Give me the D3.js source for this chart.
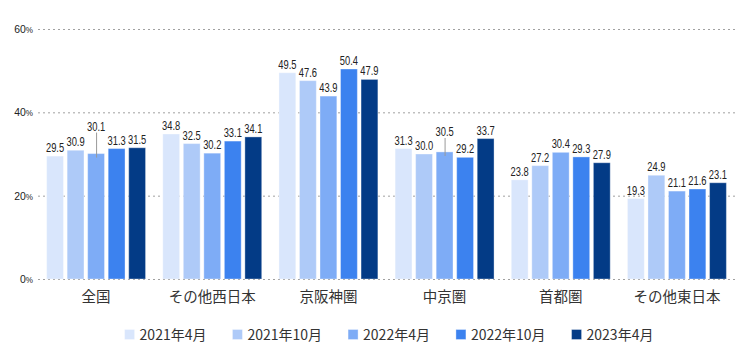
<!DOCTYPE html>
<html><head><meta charset="utf-8">
<script src="https://cdn.jsdelivr.net/npm/d3@7"></script>
<style>
body{margin:0;background:#fff;}
svg{display:block;}
</style></head>
<body>
<svg id="c" width="742" height="352"></svg>
<script>
const categories = ["全国","その他西日本","京阪神圏","中京圏","首都圏","その他東日本"];
const seriesNames = ["2021年4月","2021年10月","2022年4月","2022年10月","2023年4月"];
const s2021_04 = [29.5,34.8,49.5,31.3,23.8,19.3];
const s2021_10 = [30.9,32.5,47.6,30.0,27.2,24.9];
const s2022_04 = [30.1,30.2,43.9,30.5,30.4,21.1];
const s2022_10 = [31.3,33.1,50.4,29.2,29.3,21.6];
const s2023_04 = [31.5,34.1,47.9,33.7,27.9,23.1];
const yTicks = [0,20,40,60];
const colors = ["#d9e6fc","#aecaf8","#7eacf6","#3c82ef","#033b86"];
const callouts = [[0,2],[3,2]]; // labels drawn with leader line

const seriesValues = [s2021_04,s2021_10,s2022_04,s2022_10,s2023_04];
const svg = d3.select("#c");
const L=38,R=735,T=29,B=279;
const y = d3.scaleLinear().domain([0,60]).range([B,T]);
const x0 = d3.scaleBand().domain(categories).range([L,R]).padding(0);
const x1 = d3.scaleBand().domain(seriesNames).range([0,x0.bandwidth()]).paddingInner(0.18).paddingOuter(0.42);
const NUMFONT = "'Liberation Sans', Arial, Helvetica, sans-serif";

// grid
const g = svg.append("g");
yTicks.forEach(t=>{
  g.append("line").attr("x1",L).attr("x2",R).attr("y1",y(t)+0.5).attr("y2",y(t)+0.5)
   .attr("stroke","#a0a0a0").attr("stroke-width",1).attr("stroke-dasharray","2,3");
  const tx = g.append("text").attr("transform",`translate(33,${y(t)+4}) scale(0.95,1)`).attr("text-anchor","end")
   .style("font-family",NUMFONT).attr("fill","#222").style("font-size","11px");
  tx.append("tspan").text(t);
  tx.append("tspan").style("font-size","8.5px").text("%");
});

// bars
const barG = svg.append("g");
categories.forEach((c,ci)=>{
  seriesNames.forEach((s,si)=>{
    const v = seriesValues[si][ci];
    barG.append("rect").attr("x",x0(c)+x1(s)).attr("y",y(v)).attr("width",x1.bandwidth())
      .attr("height",B-y(v)).attr("fill",colors[si])
      .attr("stroke","#ffffff").attr("stroke-opacity",0.35).attr("stroke-width",1);
  });
});

// value labels
const isCallout=(ci,si)=>callouts.some(d=>d[0]===ci&&d[1]===si);
const lblG = svg.append("g");
categories.forEach((c,ci)=>{
  seriesNames.forEach((s,si)=>{
    const v = seriesValues[si][ci];
    const cx = x0(c)+x1(s)+x1.bandwidth()/2;
    let by = y(v)-4;
    if(isCallout(ci,si)){
      const nb = [];
      if(si>0) nb.push(y(seriesValues[si-1][ci])-4);
      if(si<seriesNames.length-1) nb.push(y(seriesValues[si+1][ci])-4);
      by = d3.min(nb)-14;
      lblG.append("line").attr("x1",cx+0.5).attr("x2",cx+0.5).attr("y1",by+2).attr("y2",y(v)+4)
        .attr("stroke","#999").attr("stroke-width",1);
    }
    lblG.append("text").attr("transform",`translate(${cx},${by}) scale(0.78,1)`).attr("text-anchor","middle")
      .style("font-family",NUMFONT).style("font-size","12px")
      .attr("fill","#222").text(v.toFixed(1));
  });
});

// category labels
categories.forEach(c=>{
  svg.append("text").attr("x",x0(c)+x0.bandwidth()/2).attr("y",302).attr("text-anchor","middle")
    .style("font-family","'Noto Sans CJK JP', sans-serif").style("font-size","14.5px").attr("fill","#333").text(c);
});

// legend
const lg = svg.append("g");
const items = seriesNames.map((s,i)=>{
  const it = lg.append("g");
  it.append("rect").attr("x",0).attr("y",-10).attr("width",10).attr("height",10).attr("fill",colors[i])
    .attr("stroke","#fff").attr("stroke-opacity",0.35);
  const t = it.append("text").attr("x",15).attr("y",0).style("font-family","'Noto Sans CJK JP', sans-serif")
    .style("font-size","14px").attr("fill","#333").text(s);
  return {it, w: 15 + t.node().getComputedTextLength()};
});
const gap = 26;
const total = d3.sum(items,d=>d.w)+gap*(items.length-1);
let xx = 389 - total/2;
items.forEach(d=>{ d.it.attr("transform",`translate(${xx},339.5)`); xx += d.w+gap; });
</script>
</body></html>
